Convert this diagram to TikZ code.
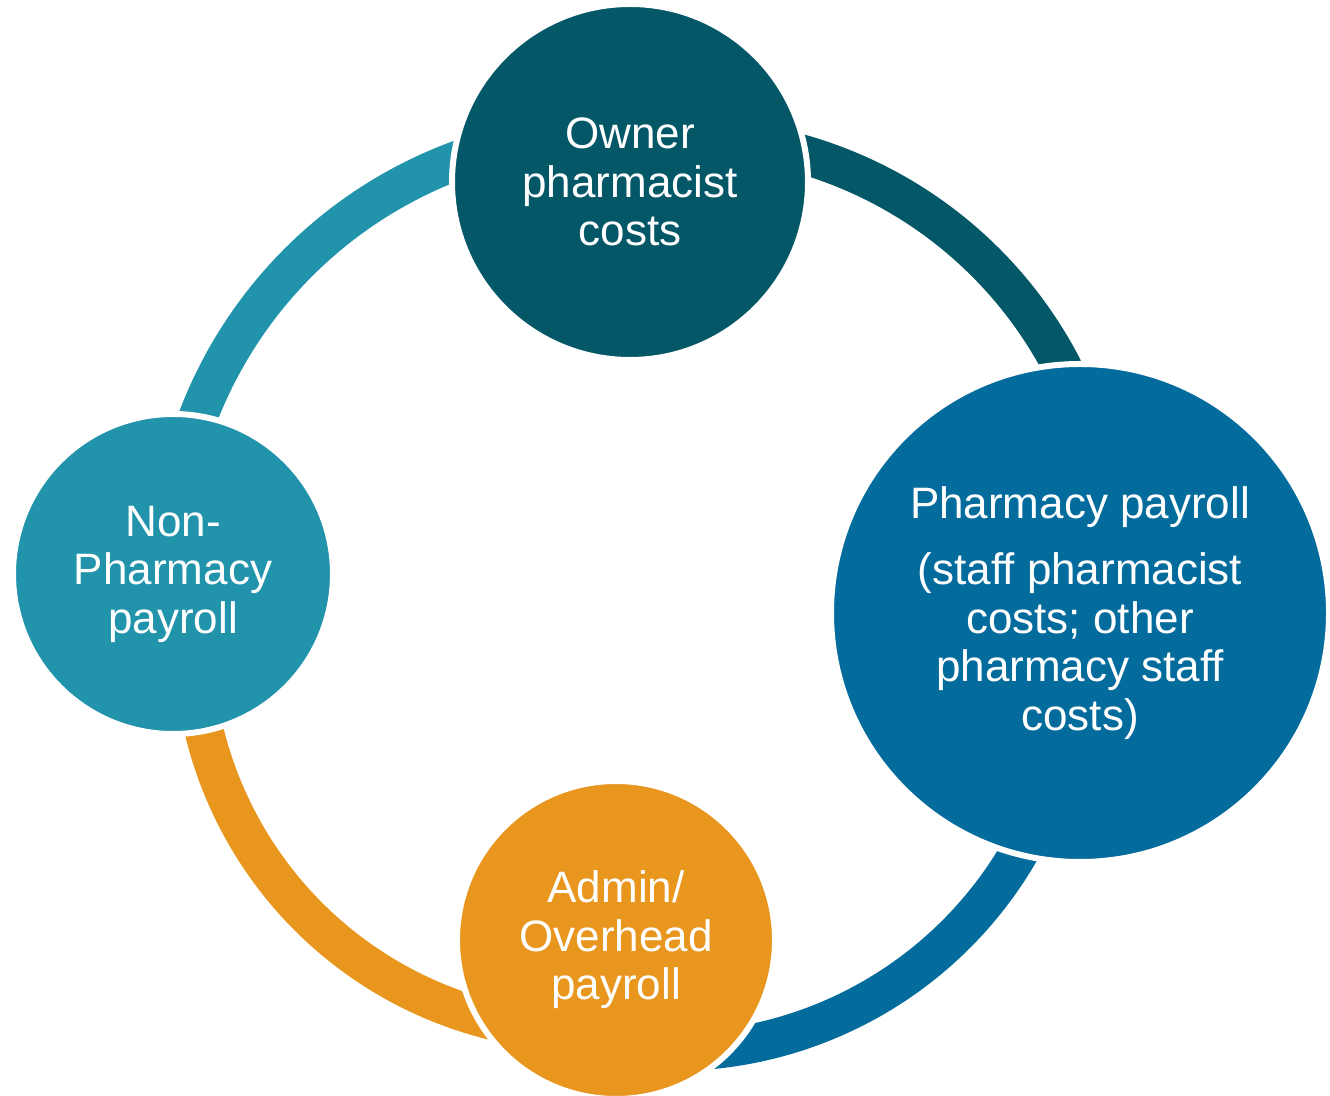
\documentclass[tikz,border=0pt]{standalone}
\usepackage{fontspec}
\setmainfont{Liberation Sans}
\definecolor{ctop}{HTML}{045767}
\definecolor{cright}{HTML}{046C9D}
\definecolor{cbottom}{HTML}{E8961E}
\definecolor{cleft}{HTML}{2194AC}
\begin{document}
\begin{tikzpicture}[x=1pt,y=1pt,
  bubble/.style={circle, draw=white, line width=6pt, text=white, align=center,
    inner sep=0pt, outer sep=0pt, font=\fontsize{44}{48.5}\selectfont},
  ringarc/.style={line width=39pt}]
\useasboundingbox (0,0) rectangle (1330,1095);
% centres of the four connecting arcs
\coordinate (cA) at (612,519);
\coordinate (cB) at (684,531);
\coordinate (cC) at (587,457);
\coordinate (cD) at (673,444);
% connecting arcs
\draw[ringarc, cleft]   (cA) ++(87.4:443.5)  arc[start angle=87.4,  end angle=179.7, radius=443.5];
\draw[ringarc, ctop]    (cB) ++(-7.05:426.5) arc[start angle=-7.05, end angle=98,    radius=426.5];
\draw[ringarc, cright]  (cD) ++(-101.2:400.5) arc[start angle=-101.2, end angle=5.3, radius=400.5];
\draw[ringarc, cbottom] (cC) ++(171.2:394)   arc[start angle=171.2, end angle=275.5, radius=394];
% circles
\node[bubble, fill=ctop, minimum size=356pt] (owner) at (630,913) {Owner\\pharmacist\\costs};
\node[bubble, fill=cright, minimum size=498pt] (pharm) at (1080,482)
  {Pharmacy payroll\\[18pt](staff pharmacist\\costs; other\\pharmacy staff\\costs)};
\node[bubble, fill=cbottom, minimum size=318pt] (admin) at (616,155) {Admin/\\Overhead\\payroll};
\node[bubble, fill=cleft, minimum size=320pt] (nonpharm) at (173,521) {Non-\\Pharmacy\\payroll};
\end{tikzpicture}
\end{document}
